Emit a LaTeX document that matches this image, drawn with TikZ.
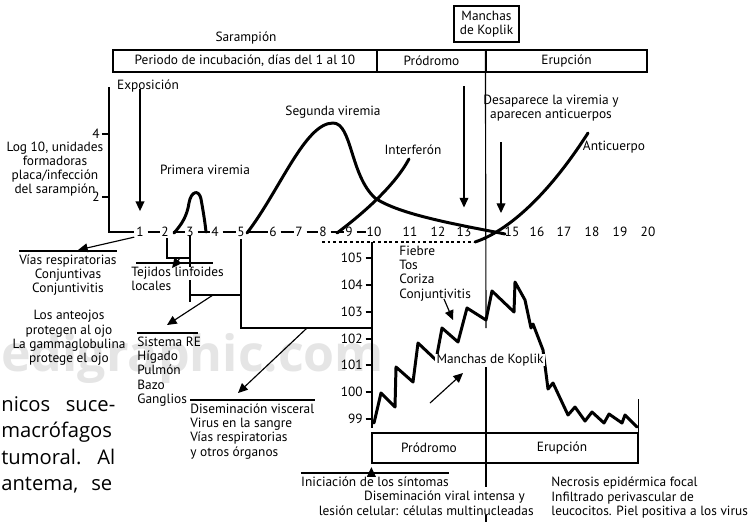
\documentclass[tikz,border=0pt]{standalone}
\usepackage{fontspec}
\setmainfont{PT Sans}
\newfontfamily\pagefont{Open Sans}
\usetikzlibrary{arrows.meta}

\tikzset{
  ln/.style={line width=0.65pt},
  arr/.style={ln, -{Triangle[length=5.5pt,width=5pt]}},
  curve/.style={line width=1.7pt, line cap=round, line join=round},
  phase/.style={draw, line width=0.7pt, minimum height=0.44cm},
  block/.style={align=left, anchor=north west, inner ysep=2pt},
  cblock/.style={align=center, anchor=north, inner ysep=2pt},
  pagetxt/.style={anchor=base west, font=\pagefont\fontsize{11.5}{14}\selectfont},
}

\begin{document}
\begin{tikzpicture}[x=0.02cm, y=-0.02cm, every node/.style={inner sep=0pt},
  font=\fontsize{7.6}{8.1}\selectfont]
\useasboundingbox (0,0) rectangle (756,522);

% page of the article behind the figure
\node[anchor=base west, text=black!10, font=\pagefont\bfseries\fontsize{28.5}{30}\selectfont] (wm) at (1,371) {edigraphic.com};
\node[pagetxt] (p1) at (1,411) {\makebox[2.28cm][s]{nicos suce-}};
\node[pagetxt] (p2) at (1,437.5) {macrófagos};
\node[pagetxt] (p3) at (1,464) {\makebox[2.28cm][s]{tumoral. Al}};
\node[pagetxt] (p4) at (1,490.5) {\makebox[2.22cm][s]{antema, se}};

% phases on top
\node (saramp) at (246,38) {Sarampión};
\node[phase, minimum width=5.28cm] (incub) at (245,61) {Periodo de incubación, días del 1 al 10};
\node[phase, minimum width=2.18cm] (prod) at (431.5,61) {Pródromo};
\node[phase, minimum width=3.22cm] (erup) at (566.5,61) {Erupción};
\node[phase, minimum width=1.3cm, minimum height=0.72cm, align=center] (koplik) at (486.5,24) {Manchas\\de Koplik};

% day scale
\foreach \d/\x in {1/140,2/165,3/190,4/215,5/241,6/273,7/299,8/323,9/349,10/374,
                   11/410,12/438,13/464,15/512,16/537,17/564,18/592,19/620,20/648}
  \node (d\d) at (\x,232) {\d};
\foreach \a/\b in {1/2,2/3,3/4,4/5,5/6,6/7,7/8,8/9,9/10}
  \draw[ln] ([xshift=2pt]d\a.east) -- ([xshift=-0.5pt]d\b.west);

% viral titre axis
\coordinate (ytop) at (109,87);
\draw[ln] (ytop) -- (109,232) -- ([xshift=-1pt]d1.west);
\node[anchor=east] (y4) at (100,134) {4};
\node[anchor=east] (y2) at (100,197) {2};
\draw[ln] ([xshift=1pt]y4.east) -- (ytop |- y4);
\draw[ln] ([xshift=1pt]y2.east) -- (ytop |- y2);
\node[align=center] (logu) at (55,169) {Log 10, unidades\\formadoras\\placa/infección\\del sarampión};

% curves
\draw[curve] (174,233) .. controls (182,224) and (187,216) .. (189,203)
  .. controls (191,191) and (199,189) .. (201,199) .. controls (203,210) and (205,222) .. (206,232);
\draw[curve] (247,233) .. controls (280,190) and (305,123) .. (333,123)
  .. controls (352,123) and (350,175) .. (375,198) .. controls (400,215) and (460,225) .. (505,234);
\draw[curve] (337,233) .. controls (365,212) and (395,185) .. (409,159);
\draw[curve] (475,242) .. controls (505,232) and (545,200) .. (588,133);

\node (prim) at (205,170) {Primera viremia};
\node (seg) at (333,112) {Segunda viremia};
\node (interf) at (413,150) {Interferón};
\node (antic) at (614,147) {Anticuerpo};
\node[align=center] (desap) at (551,108) {Desaparece la viremia y\\aparecen anticuerpos};
\node (expo) at (148,86) {Exposición};

\draw[arr] (expo.south -| d1) ++(0,-4) -- ([yshift=9pt]d1.north);
\draw[arr] (464,86) -- ([yshift=11pt]d13.north);
\draw[arr] ([yshift=2pt]desap.south -| 501,0) ++(0,24) -- (501,213);

% division at the Koplik spots
\draw[ln] (erup.north west) -- (486,328);
\draw[ln] (486,367) -- (486,487);
\draw[ln] (486,515) -- (486,522);

% temperature axis
\coordinate (ttop) at (372,242);
\draw[ln, dash pattern=on 1.6pt off 1.6pt] (322,242) -- (475,242);
\draw[ln] (ttop) -- (372,428);
\foreach \t/\y in {105/258,104/285,103/312,102/339,101/365,100/392,99/419} {
  \node[anchor=east] (t\t) at (363,\y) {\t};
  \draw[ln] ([xshift=1.5pt]t\t.east) -- (ttop |- t\t);
}
\draw[curve] plot coordinates {(374,423) (381,393) (395,407) (396,367) (413,382) (418,343)
  (436,360) (442,328) (458,342) (467,308) (486,320) (492,291) (514,312) (515,282) (525,300)
  (531,328) (533,324) (543,350) (548,389) (553,383) (568,415) (575,407) (585,421) (592,412)
  (604,423) (609,414) (622,423) (625,415) (637,427)};

\node[block] (sint) at (399,242) {Fiebre\\Tos\\Coriza\\Conjuntivitis};
\draw[arr] (444,299) -- (453,320);
\node[fill=white, inner xsep=1pt] (kop2) at (490,360) {Manchas de Koplik};
\draw[arr] (430,403) -- (463,373);

% bottom phases
\node[phase, minimum width=2.28cm, minimum height=0.6cm] (prod2) at (429,448) {Pródromo};
\node[phase, minimum width=3.04cm, minimum height=0.6cm] (erup2) at (562,448) {Erupción};
\draw[ln] (erup2.north east) -- ++(0,-33);
\node[cblock] (inic) at (375,473) {Iniciación de los síntomas};
\draw[ln] (inic.north west) -- (inic.north east);
\draw[arr] (prod2.south west |- inic.north) -- ([yshift=-2pt]prod2.south west);
\node[align=right, anchor=north east] (disv) at (534,491) {Diseminación viral intensa y\hspace*{5pt}\\lesión celular: células multinucleadas};
\node[align=left, anchor=north west] (necr) at (551,477) {Necrosis epidérmica focal\\Infiltrado perivascular de\\leucocitos. Piel positiva a los virus};

% spread of the virus
\node[cblock] (vias) at (68,251) {Vías respiratorias\\Conjuntivas\\Conjuntivitis};
\draw[ln] (vias.north west) -- (vias.north east);
\draw[arr] ([xshift=-1pt]d1.south west) -- ([shift={(10,-1)}]vias.north);
\node[align=center] (anteoj) at (69,338) {Los anteojos\\protegen al ojo\\La gammaglobulina\\protege el ojo};

\draw[ln] (167,238) -- (167,258) -- (190,258);
\draw[ln] (190,235) -- (190,267);
\draw[ln] (190,280) -- (190,302);
\draw[ln] (190,295) -- (241,295);
\node[block] (linf) at (131,263) {Tejidos linfoides\\locales};
\draw[ln] (136,263) -- (213,263);
\draw[arr] (180,258) -- (172,268);

\draw[ln] ([yshift=-1pt]d5.south) -- (241,328) -- (ttop |- 0,328);

\node[block] (sre) at (137,333) {Sistema RE\\Hígado\\Pulmón\\Bazo\\Ganglios};
\draw[ln] (sre.north west) -- (sre.north west -| 198,0);
\draw[arr] (213,295) -- (167,325);

\node[block] (visc) at (190,400) {Diseminación visceral\\Virus en la sangre\\Vías respiratorias\\y otros órganos};
\draw[ln] (visc.north west) -- (visc.north east);
\draw[arr] (307,328) -- (238,393);
\end{tikzpicture}
\end{document}
